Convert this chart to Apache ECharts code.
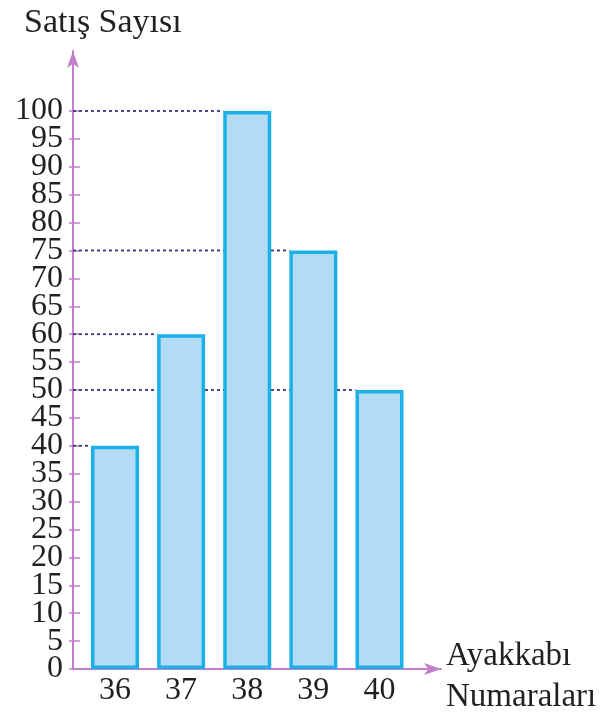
<!DOCTYPE html>
<html>
<head>
<meta charset="utf-8">
<script src="https://cdn.jsdelivr.net/npm/echarts@6/dist/echarts.min.js"></script>
<style>html,body{margin:0;padding:0;background:#fff;}#c{width:607px;height:717px;}</style>
</head>
<body>
<div id="c"></div>
<script>
const categories = ['36', '37', '38', '39', '40'];
const sales = [40, 60, 100, 75, 50];
const yTickLabels = [0, 5, 10, 15, 20, 25, 30, 35, 40, 45, 50, 55, 60, 65, 70, 75, 80, 85, 90, 95, 100];
const yTitle = 'Satış Sayısı';
const xTitle = 'Ayakkabı\nNumaraları';

const FONT = '"Liberation Serif", "DejaVu Serif", serif';
const AXIS_COLOR = '#c07fc8';
const X_MIN = 35.365, X_MAX = 40.93;
const Y_MAX = 110.75;
const BAR_W = 48;

const catNums = categories.map(Number);
const barData = catNums.map((c, i) => [c, sales[i]]);
// split labels into two interleaved sets so ECharts does not hide crowded neighbours
const yLabelsA = yTickLabels.filter((v, i) => i % 2 === 0);
const yLabelsB = yTickLabels.filter((v, i) => i % 2 === 1);

const labelStyle = { margin: 10, hideOverlap: false, fontFamily: FONT, fontSize: 32, color: '#231f20' };

const chart = echarts.init(document.getElementById('c'));
chart.setOption({
  animation: false,
  backgroundColor: '#fff',
  title: [
    { text: yTitle, left: 24, top: 6, padding: 0, textStyle: { fontFamily: FONT, fontSize: 34, fontWeight: 'normal', color: '#231f20' } },
    { text: xTitle, left: 446, top: 636, padding: 0, textStyle: { fontFamily: FONT, fontSize: 33, fontWeight: 'normal', color: '#231f20', lineHeight: 41 } }
  ],
  grid: { left: 73, top: 51, right: 166, bottom: 48, containLabel: false },
  xAxis: {
    type: 'value', min: X_MIN, max: X_MAX,
    splitLine: { show: false },
    axisLine: { show: true, lineStyle: { color: AXIS_COLOR, width: 2 }, symbol: ['none', 'arrow'], symbolSize: [9, 17] },
    axisTick: { show: false },
    axisLabel: {
      customValues: catNums, margin: 6, hideOverlap: false,
      fontFamily: FONT, fontSize: 32, color: '#231f20',
      formatter: v => String(v)
    }
  },
  yAxis: [
    {
      type: 'value', min: 0, max: Y_MAX,
      splitLine: { show: false },
      axisLine: { show: true, lineStyle: { color: AXIS_COLOR, width: 2 }, symbol: ['none', 'arrow'], symbolSize: [9, 17] },
      axisTick: { show: true, inside: true, length: 7, customValues: yTickLabels, lineStyle: { color: AXIS_COLOR, width: 1.5 } },
      axisLabel: Object.assign({ customValues: yLabelsA }, labelStyle)
    },
    {
      type: 'value', min: 0, max: Y_MAX, position: 'left',
      splitLine: { show: false },
      axisLine: { show: false },
      axisTick: { show: true, inside: false, length: 4, customValues: yTickLabels, lineStyle: { color: AXIS_COLOR, width: 1.5 } },
      axisLabel: Object.assign({ customValues: yLabelsB }, labelStyle)
    }
  ],
  series: [
    {
      type: 'custom',
      z: 1,
      data: barData,
      renderItem: (params, api) => {
        const x = api.value(0), v = api.value(1);
        const s = api.coord([X_MIN, v]);
        const e = api.coord([x, v]);
        return {
          type: 'line',
          shape: { x1: s[0], y1: s[1], x2: e[0] - BAR_W / 2, y2: e[1] },
          style: { stroke: '#34348a', lineWidth: 1.8, lineDash: [3, 3] }
        };
      }
    },
    {
      type: 'bar',
      z: 2,
      data: barData,
      barWidth: BAR_W,
      itemStyle: { color: '#b3dbf3', borderColor: '#1cb0e8', borderWidth: 3.5 }
    }
  ]
});
</script>
</body>
</html>
